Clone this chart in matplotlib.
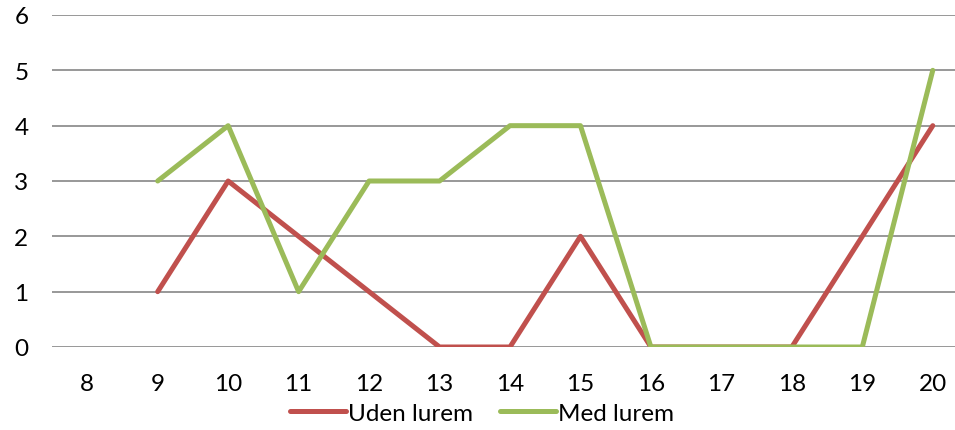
import matplotlib
matplotlib.use("Agg")
import matplotlib.pyplot as plt
import numpy as np

categories = ["8", "9", "10", "11", "12", "13", "14", "15", "16", "17", "18", "19", "20"]
uden_lurem = [np.nan, 1, 3, 2, 1, 0, 0, 2, 0, 0, 0, 2, 4]
med_lurem = [np.nan, 3, 4, 1, 3, 3, 4, 4, 0, 0, 0, 0, 5]
yticks = [0, 1, 2, 3, 4, 5, 6]

plt.rcParams['font.family'] = ['Lato', 'DejaVu Sans']

W, H = 955, 431
fig = plt.figure(figsize=(W / 100, H / 100), dpi=100)
left, right, top, bottom = 52, 968, 16, 348
ax = fig.add_axes([left / W, 1 - bottom / H, (right - left) / W, (bottom - top) / H])

x = np.arange(len(categories))
ax.plot(x, uden_lurem, color="#C0504D", lw=3.6, solid_capstyle="round", solid_joinstyle="round", label="Uden lurem")
ax.plot(x, med_lurem, color="#9BBB59", lw=3.6, solid_capstyle="round", solid_joinstyle="round", label="Med lurem")

ax.set_xlim(-0.5, len(categories) - 0.5)
ax.set_ylim(0, 6)
ax.set_yticks(yticks)
ax.set_yticklabels([str(v) for v in yticks])
ax.set_xticks(x)
ax.set_xticklabels(categories)
ax.grid(axis="y", color="#868686", lw=1.2)
ax.set_axisbelow(True)
for s in ax.spines.values():
    s.set_visible(False)
ax.tick_params(axis="both", length=0, labelsize=17.5, colors="black")
ax.tick_params(axis="y", pad=17)
ax.tick_params(axis="x", pad=18.5)

leg = fig.legend(loc="center", bbox_to_anchor=(482 / W, 1 - 414 / H), ncol=2, frameon=False,
                 fontsize=17.5, handlelength=2.3, handletextpad=0.1, columnspacing=1.1)

fig.savefig("out.png", dpi=100)
